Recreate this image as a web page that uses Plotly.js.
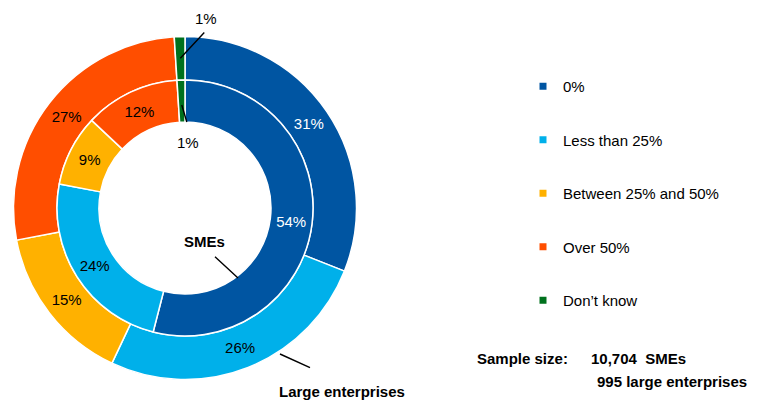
<!DOCTYPE html>
<html><head><meta charset="utf-8">
<script src="https://cdn.plot.ly/plotly-3.0.1.min.js"></script>
<style>html,body{margin:0;padding:0;background:#fff}</style>
</head><body><div id="chart" style="width:764px;height:406px"></div>
<script>
// ---- data ----
const categories = ['0%', 'Less than 25%', 'Between 25% and 50%', 'Over 50%', 'Don\u2019t know'];
const smeValues = [54, 24, 9, 12, 1];
const largeValues = [31, 26, 15, 27, 1];
const sliceColors = ['#0055A2', '#00B0EA', '#FFB100', '#FF4E00', '#00711D'];
const labelColors = ['#ffffff', '#000000', '#000000', '#000000', '#000000'];
const ringNames = ['SMEs', 'Large enterprises'];
const sampleLabel = 'Sample size:';
const sampleSizes = ['10,704\u00A0 SMEs', '995 large enterprises'];

// ---- geometry ----
const W = 764, H = 406;
const cx = 185, cy = 208;
const rOuter = 171.5, rMid = 128, rInner = 86;
const FONT = 'Arial, "Liberation Sans", sans-serif';

function dom(r) {
  return { x: [(cx - r) / W, (cx + r) / W], y: [(H - cy - r) / H, (H - cy + r) / H] };
}
function px(x) { return x / W; }
function py(y) { return 1 - y / H; }
function midPoint(values, i, r) {
  const tot = values.reduce((a, b) => a + b, 0);
  let before = 0;
  for (let k = 0; k < i; k++) before += values[k];
  const th = 2 * Math.PI * (before + values[i] / 2) / tot;
  const t = th > Math.PI ? th - 2 * Math.PI : th;
  return [cx + r * Math.sin(t), cy - r * Math.cos(t)];
}
const textPos = v => v.map(x => x <= 1 ? 'none' : 'inside');

const pieCommon = {
  type: 'pie', sort: false, direction: 'clockwise', rotation: 0,
  marker: { colors: sliceColors, line: { color: '#ffffff', width: 1.5 } },
  texttemplate: '%{value}%', insidetextorientation: 'horizontal',
  textfont: { family: FONT, size: 15, color: labelColors },
  hoverinfo: 'none', showlegend: false
};

const traces = [
  Object.assign({}, pieCommon, {
    labels: categories, values: largeValues, name: ringNames[1],
    domain: dom(rOuter), hole: rMid / rOuter, textposition: textPos(largeValues)
  }),
  Object.assign({}, pieCommon, {
    labels: categories, values: smeValues, name: ringNames[0],
    domain: dom(rMid), hole: rInner / rMid, textposition: textPos(smeValues)
  })
];
// legend entries
categories.forEach((c, i) => {
  traces.push({
    type: 'scatter', mode: 'markers', x: [null], y: [null], name: c,
    legendgroup: 'g' + i, showlegend: true, hoverinfo: 'none',
    marker: { symbol: 'square', size: 7, color: sliceColors[i] }
  });
});

const lastIdx = categories.length - 1;
const outerTip = midPoint(largeValues, lastIdx, (rOuter + rMid) / 2);
const innerTip = midPoint(smeValues, lastIdx, (rMid + rInner) / 2 - 4);

function lineAnn(tip, ax, ay) {
  return { xref: 'paper', yref: 'paper', x: px(tip[0]), y: py(tip[1]), text: ' ',
    showarrow: true, arrowhead: 0, arrowwidth: 1.4, arrowcolor: '#000', ax: ax, ay: ay,
    standoff: 0, startstandoff: 0 };
}
function textAnn(x, y, text, bold, anchor) {
  return { xref: 'paper', yref: 'paper', x: px(x), y: py(y), text: bold ? '<b>' + text + '</b>' : text,
    showarrow: false, xanchor: anchor || 'center', yanchor: 'middle',
    font: { family: FONT, size: 15, color: '#000' } };
}

const annotations = [
  lineAnn(outerTip, 27, -29),
  textAnn(206, 18, largeValues[lastIdx] + '%', false),
  lineAnn(innerTip, 8, 27),
  textAnn(188, 143, smeValues[lastIdx] + '%', false),
  lineAnn([238, 278], -26, -24),
  textAnn(204, 241, ringNames[0], true),
  lineAnn([280, 354], 33, 15),
  textAnn(342, 391, ringNames[1], true),
  textAnn(475, 358, sampleLabel, true, 'left'),
  textAnn(589, 358, sampleSizes[0], true, 'left'),
  textAnn(595, 381, sampleSizes[1], true, 'left')
];

const layout = {
  width: W, height: H,
  margin: { l: 0, r: 0, t: 0, b: 0 },
  paper_bgcolor: '#ffffff', plot_bgcolor: '#ffffff',
  xaxis: { visible: false }, yaxis: { visible: false },
  showlegend: true,
  legend: {
    x: px(523), y: py(70), xanchor: 'left', yanchor: 'top',
    traceorder: 'grouped', tracegroupgap: 31, itemclick: false,
    font: { family: FONT, size: 15, color: '#000' }, bgcolor: 'rgba(0,0,0,0)'
  },
  annotations: annotations
};

Plotly.newPlot('chart', traces, layout, { staticPlot: true, displayModeBar: false });
</script></body></html>
